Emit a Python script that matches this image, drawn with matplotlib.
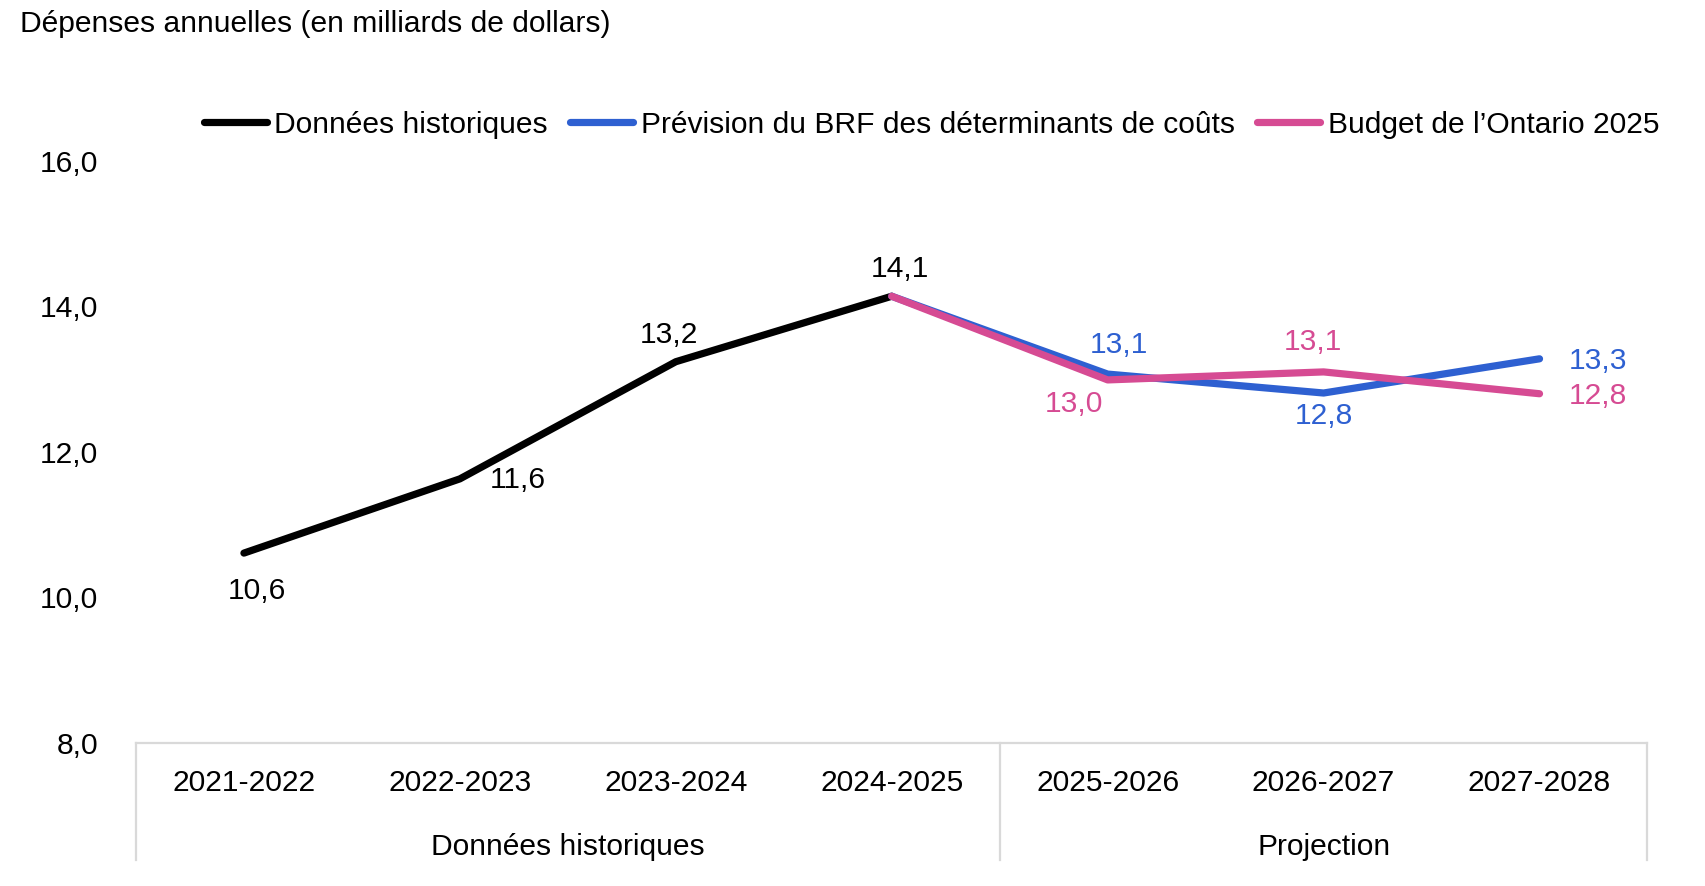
import matplotlib.pyplot as plt
from matplotlib.lines import Line2D

plt.rcParams['font.family'] = ['Liberation Sans', 'DejaVu Sans']

# data
periods = ['2021-2022', '2022-2023', '2023-2024', '2024-2025',
           '2025-2026', '2026-2027', '2027-2028']
hist_vals = [10.61, 11.63, 13.24, 14.14]
brf_vals = [14.14, 13.07, 12.81, 13.28]
budget_vals = [14.14, 12.99, 13.10, 12.80]
groups = ['Données historiques', 'Projection']
group_sizes = [4, 3]
yticks = [8, 10, 12, 14, 16]

BLACK = '#000000'
BLUE = '#2E60D1'
PINK = '#D64B93'
GREY = '#D9D9D9'
FS = 21.6
LW = 5.2

fig = plt.figure(figsize=(17.06, 8.86), dpi=100)
ax = fig.add_axes([0.0797, 0.1614, 0.886, 0.657])

x_hist = list(range(len(hist_vals)))
x_proj = list(range(len(hist_vals) - 1, len(periods)))

ax.plot(x_hist, hist_vals, color=BLACK, lw=LW, solid_capstyle='round', label='Données historiques')
ax.plot(x_proj, brf_vals, color=BLUE, lw=LW, solid_capstyle='round',
        label='Prévision du BRF des déterminants de coûts')
ax.plot(x_proj, budget_vals, color=PINK, lw=LW, solid_capstyle='round',
        label='Budget de l\u2019Ontario 2025')

ax.set_xlim(-0.5, len(periods) - 0.5)
ax.set_ylim(8, 16)
ax.set_yticks(yticks)
ax.set_yticklabels([f'{v:.1f}'.replace('.', ',') for v in yticks], fontsize=FS)
ax.set_xticks(range(len(periods)))
ax.set_xticklabels(periods, fontsize=FS)
ax.tick_params(axis='y', length=0, pad=27)
ax.tick_params(axis='x', length=0, pad=19)

for side in ['top', 'right', 'left']:
    ax.spines[side].set_visible(False)
ax.spines['bottom'].set_color(GREY)
ax.spines['bottom'].set_linewidth(1.6)

# category group box below the axis
tr = ax.get_xaxis_transform()
edges = [-0.5]
for n in group_sizes:
    edges.append(edges[-1] + n)
for e in edges:
    ax.add_line(Line2D([e, e], [0, -0.201], transform=tr, color=GREY, lw=1.6, clip_on=False))
for i, g in enumerate(groups):
    ax.text((edges[i] + edges[i + 1]) / 2, -0.178, g, transform=tr,
            ha='center', va='center', fontsize=FS)


def lab(v):
    return f'{v:.1f}'.replace('.', ',')


hist_off = [(13, -38), (58, -1), (-7, 27), (8, 27)]
for x, v, off in zip(x_hist, hist_vals, hist_off):
    ax.annotate(lab(v), (x, v), xytext=off, textcoords='offset pixels',
                ha='center', va='center', fontsize=FS, color=BLACK)

brf_off = [(11, 29), (0, -23), (58, -2)]
for x, v, off in zip(x_proj[1:], brf_vals[1:], brf_off):
    ax.annotate(lab(v), (x, v), xytext=off, textcoords='offset pixels',
                ha='center', va='center', fontsize=FS, color=BLUE)

bud_off = [(-34, -24), (-11, 30), (58, -2)]
for x, v, off in zip(x_proj[1:], budget_vals[1:], bud_off):
    ax.annotate(lab(v), (x, v), xytext=off, textcoords='offset pixels',
                ha='center', va='center', fontsize=FS, color=PINK)

fig.text(0.0115, 0.973, 'Dépenses annuelles (en milliards de dollars)',
         ha='left', va='center', fontsize=FS)

fig.legend(loc='center', bbox_to_anchor=(0.546, 0.859), ncol=3, frameon=False,
           fontsize=FS, handlelength=2.1, handletextpad=0.25, columnspacing=0.75)

fig.savefig('out.png', dpi=100)
